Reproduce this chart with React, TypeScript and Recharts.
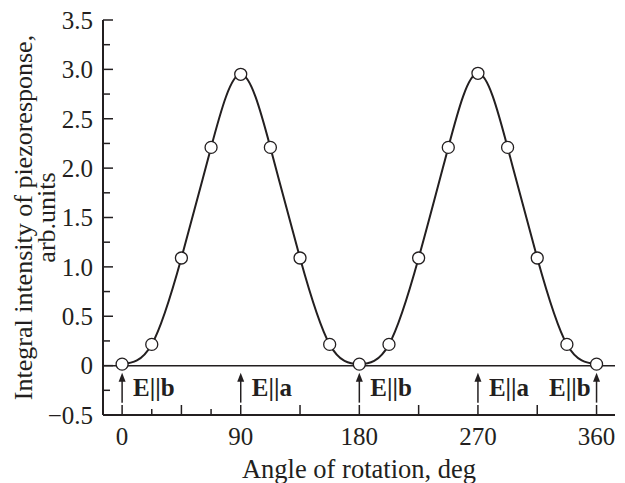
import React from 'react';
import { LineChart, Line, XAxis, YAxis, ReferenceLine, ReferenceDot } from 'recharts';

// rotation angle (deg) and integral intensity of piezoresponse (arb. units)
const angles = [0, 22.5, 45, 67.5, 90, 112.5, 135, 157.5, 180, 202.5, 225, 247.5, 270, 292.5, 315, 337.5, 360];
const intensity = [0.015, 0.215, 1.09, 2.21, 2.95, 2.21, 1.09, 0.215, 0.015, 0.215, 1.09, 2.21, 2.96, 2.21, 1.09, 0.215, 0.015];

const xTicks = [0, 22.5, 45, 67.5, 90, 112.5, 135, 157.5, 180, 202.5, 225, 247.5, 270, 292.5, 315, 337.5, 360];
const yTicks = [-0.5, -0.25, 0, 0.25, 0.5, 0.75, 1, 1.25, 1.5, 1.75, 2, 2.25, 2.5, 2.75, 3, 3.25, 3.5];

// field direction markers
const markAngles = [0, 90, 180, 270, 360];
const markLabels = ['E||b', 'E||a', 'E||b', 'E||a', 'E||b'];
const markSides = ['right', 'right', 'right', 'right', 'left'];

const data = angles.map((a, i) => ({ angle: a, value: intensity[i] }));

const INK = '#231f20';
const FONT = '"Liberation Serif", "Times New Roman", serif';

const BottomTick = (props: any) => {
  const { x, y, payload } = props;
  const v = payload.value;
  const major = v % 45 === 0;
  return (
    <g>
      <line x1={x} x2={x} y1={y} y2={y - (major ? 10 : 6)} stroke={INK} strokeWidth={1.5} />
      {v % 90 === 0 && (
        <text x={x} y={y + 30} textAnchor="middle" fontSize={25} fontFamily={FONT} fill={INK}>
          {v}
        </text>
      )}
    </g>
  );
};

const TopTick = (props: any) => {
  const { x, y, payload } = props;
  const major = payload.value % 45 === 0;
  return <line x1={x} x2={x} y1={y} y2={y + (major ? 10 : 6)} stroke={INK} strokeWidth={1.5} />;
};

const fmtY = (v: number) => {
  if (v === 0) return '0';
  if (v < 0) return '\u2212' + Math.abs(v).toFixed(1);
  return v.toFixed(1);
};

const LeftTick = (props: any) => {
  const { x, y, payload } = props;
  const v = payload.value;
  const major = Math.abs(v * 2 - Math.round(v * 2)) < 1e-6;
  return (
    <g>
      <line x1={x} x2={x + (major ? 10 : 7)} y1={y} y2={y} stroke={INK} strokeWidth={1.5} />
      {major && (
        <text x={x - 10} y={y} dy="0.35em" textAnchor="end" fontSize={25} fontFamily={FONT} fill={INK}>
          {fmtY(v)}
        </text>
      )}
    </g>
  );
};

const Marker = (props: any) => {
  const { cx, cy, text, side } = props;
  const tip = cy + 7;
  return (
    <g>
      <line x1={cx} x2={cx} y1={tip + 6} y2={cy + 37} stroke={INK} strokeWidth={1.5} />
      <polygon points={`${cx},${tip} ${cx - 3.5},${tip + 9} ${cx + 3.5},${tip + 9}`} fill={INK} />
      <text
        x={side === 'left' ? cx - 6 : cx + 11}
        y={cy + 30}
        textAnchor={side === 'left' ? 'end' : 'start'}
        fontSize={25}
        fontWeight="bold"
        fontFamily={FONT}
        fill={INK}
      >
        {text}
      </text>
    </g>
  );
};

const YTitle = () => (
  <g fontFamily={FONT} fontSize={26} fill={INK}>
    <text x={32} y={217.5} textAnchor="middle" transform="rotate(-90 32 217.5)">
      Integral intensity of piezoresponse,
    </text>
    <text x={55} y={217.5} textAnchor="middle" transform="rotate(-90 55 217.5)">
      arb.units
    </text>
  </g>
);

export default function App() {
  return (
    <div style={{ position: 'absolute', left: 0, top: 0, width: 625, height: 483, background: '#fff' }}>
      <LineChart width={625} height={483} data={data} margin={{ top: 20, right: 10, bottom: 0, left: 0 }}>
        <XAxis
          dataKey="angle"
          type="number"
          domain={[-14.5, 374]}
          ticks={xTicks}
          height={68}
          tickSize={0}
          tickMargin={0}
          tickLine={false}
          tick={<BottomTick />}
          axisLine={{ stroke: INK, strokeWidth: 2 }}
          label={{ value: 'Angle of rotation, deg', position: 'insideBottom', offset: 5, fontSize: 26.5, fontFamily: FONT, fill: INK }}
        />
        <XAxis
          xAxisId="top"
          orientation="top"
          dataKey="angle"
          type="number"
          domain={[-14.5, 374]}
          ticks={xTicks}
          height={0}
          tickSize={0}
          tickMargin={0}
          tickLine={false}
          tick={<TopTick />}
          axisLine={{ stroke: INK, strokeWidth: 2 }}
        />
        <YAxis
          type="number"
          domain={[-0.5, 3.5]}
          ticks={yTicks}
          width={103}
          tickSize={0}
          tickMargin={0}
          tickLine={false}
          tick={<LeftTick />}
          axisLine={{ stroke: INK, strokeWidth: 2 }}
          label={{ content: () => <YTitle /> }}
        />
        <YAxis
          yAxisId="right"
          orientation="right"
          type="number"
          domain={[-0.5, 3.5]}
          width={0}
          tick={false}
          tickLine={false}
          axisLine={{ stroke: INK, strokeWidth: 2 }}
        />
        <ReferenceLine y={0} stroke={INK} strokeWidth={1.5} />
        {markAngles.map((a, i) => (
          <ReferenceDot
            key={a}
            x={a}
            y={0}
            r={0}
            shape={(p: any) => <Marker {...p} text={markLabels[i]} side={markSides[i]} />}
          />
        ))}
        <Line
          type="natural"
          dataKey="value"
          stroke={INK}
          strokeWidth={2}
          dot={{ r: 6, fill: '#fff', stroke: INK, strokeWidth: 1.3 }}
          isAnimationActive={false}
        />
      </LineChart>
    </div>
  );
}
